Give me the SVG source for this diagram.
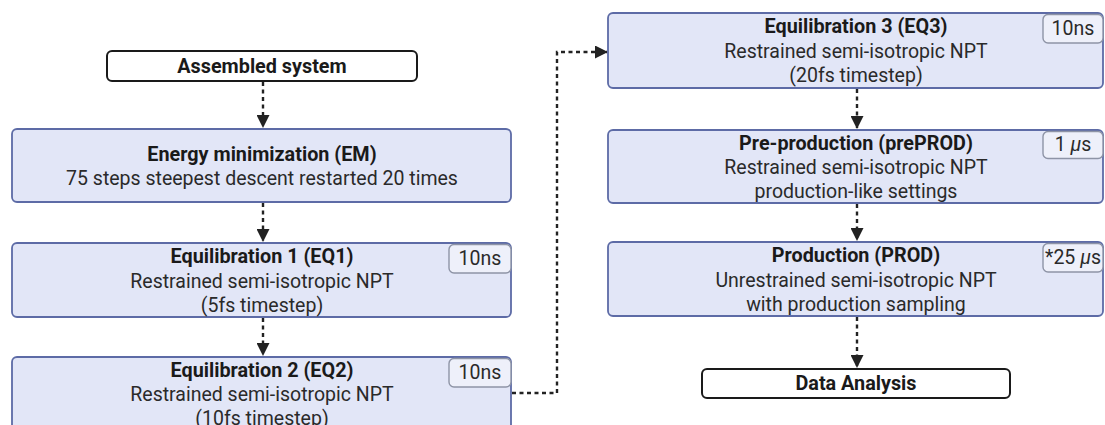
<svg xmlns="http://www.w3.org/2000/svg" width="1105" height="425" viewBox="0 0 1105 425">
<style>
.box{fill:#e2e6f7;stroke:#5d6ba6;stroke-width:1.8}
.term{fill:#ffffff;stroke:#1a1a1a;stroke-width:2}
.badge{fill:#eef0fa;stroke:#8e94a6;stroke-width:1.4}
.t{font-family:Roboto,"Liberation Sans",sans-serif;font-weight:700;font-size:19.8px;fill:#1a1a1a;text-anchor:middle}
.b{font-family:Roboto,"Liberation Sans",sans-serif;font-size:19.5px;fill:#2a2a2a;text-anchor:middle}
.bd{font-family:Roboto,"Liberation Sans",sans-serif;font-size:19.5px;fill:#2a2a2a;text-anchor:middle}
.c{fill:none;stroke:#222;stroke-width:2.4;stroke-dasharray:4 3.5}
</style>
<defs>
<marker id="ah" markerWidth="13" markerHeight="13" refX="12" refY="6.5" orient="auto" markerUnits="userSpaceOnUse">
<path d="M0,0 L13,6.5 L0,13 z" fill="#222"/>
</marker>
</defs>
<rect width="1105" height="425" fill="#ffffff"/>
<g id="connectors">
<path class="c" d="M263,82 V127" marker-end="url(#ah)"/>
<path class="c" d="M263,203 V241" marker-end="url(#ah)"/>
<path class="c" d="M263,318 V355" marker-end="url(#ah)"/>
<path class="c" d="M512,393 H557 V52 H607" marker-end="url(#ah)"/>
<path class="c" d="M857,89 V128" marker-end="url(#ah)"/>
<path class="c" d="M857,204 V240" marker-end="url(#ah)"/>
<path class="c" d="M857,317 V367" marker-end="url(#ah)"/>
</g>
<g id="assembled">
<rect class="term" x="107" y="51" width="310" height="30" rx="5"/>
<text class="t" x="262" y="73">Assembled system</text>
</g>
<g id="em">
<rect class="box" x="12" y="129" width="499" height="73" rx="5"/>
<text class="t" x="262" y="161">Energy minimization (EM)</text>
<text class="b" x="262" y="185">75 steps steepest descent restarted 20 times</text>
</g>
<g id="eq1">
<rect class="box" x="12" y="243" width="499" height="74" rx="5"/>
<text class="t" x="262" y="263">Equilibration 1 (EQ1)</text>
<text class="b" x="262" y="288">Restrained semi-isotropic NPT</text>
<text class="b" x="262" y="312">(5fs timestep)</text>
<rect class="badge" x="449" y="244.5" width="62" height="28.5" rx="5"/>
<text class="bd" x="480" y="265">10ns</text>
</g>
<g id="eq2">
<rect class="box" x="12" y="357" width="499" height="74" rx="5"/>
<text class="t" x="262" y="377">Equilibration 2 (EQ2)</text>
<text class="b" x="262" y="401">Restrained semi-isotropic NPT</text>
<text class="b" x="262" y="425">(10fs timestep)</text>
<rect class="badge" x="449" y="358.5" width="62" height="28.5" rx="5"/>
<text class="bd" x="480" y="379">10ns</text>
</g>
<g id="eq3">
<rect class="box" x="608" y="13" width="495" height="75" rx="5"/>
<text class="t" x="856" y="33">Equilibration 3 (EQ3)</text>
<text class="b" x="856" y="58">Restrained semi-isotropic NPT</text>
<text class="b" x="856" y="82">(20fs timestep)</text>
<rect class="badge" x="1043" y="14.5" width="60" height="28.5" rx="5"/>
<text class="bd" x="1073" y="35">10ns</text>
</g>
<g id="preprod">
<rect class="box" x="608" y="130" width="495" height="73" rx="5"/>
<text class="t" x="856" y="150">Pre-production (prePROD)</text>
<text class="b" x="856" y="174">Restrained semi-isotropic NPT</text>
<text class="b" x="856" y="198">production-like settings</text>
<rect class="badge" x="1043" y="131.5" width="60" height="27" rx="5"/>
<text class="bd" x="1073" y="151">1 <tspan font-style="italic">μ</tspan>s</text>
</g>
<g id="prod">
<rect class="box" x="608" y="242" width="495" height="74" rx="5"/>
<text class="t" x="856" y="262">Production (PROD)</text>
<text class="b" x="856" y="287">Unrestrained semi-isotropic NPT</text>
<text class="b" x="856" y="311">with production sampling</text>
<rect class="badge" x="1043" y="243.5" width="60" height="28.5" rx="5"/>
<text class="bd" x="1073" y="264">*25 <tspan font-style="italic">μ</tspan>s</text>
</g>
<g id="data">
<rect class="term" x="702" y="369" width="308" height="29" rx="5"/>
<text class="t" x="856" y="390">Data Analysis</text>
</g>
</svg>
